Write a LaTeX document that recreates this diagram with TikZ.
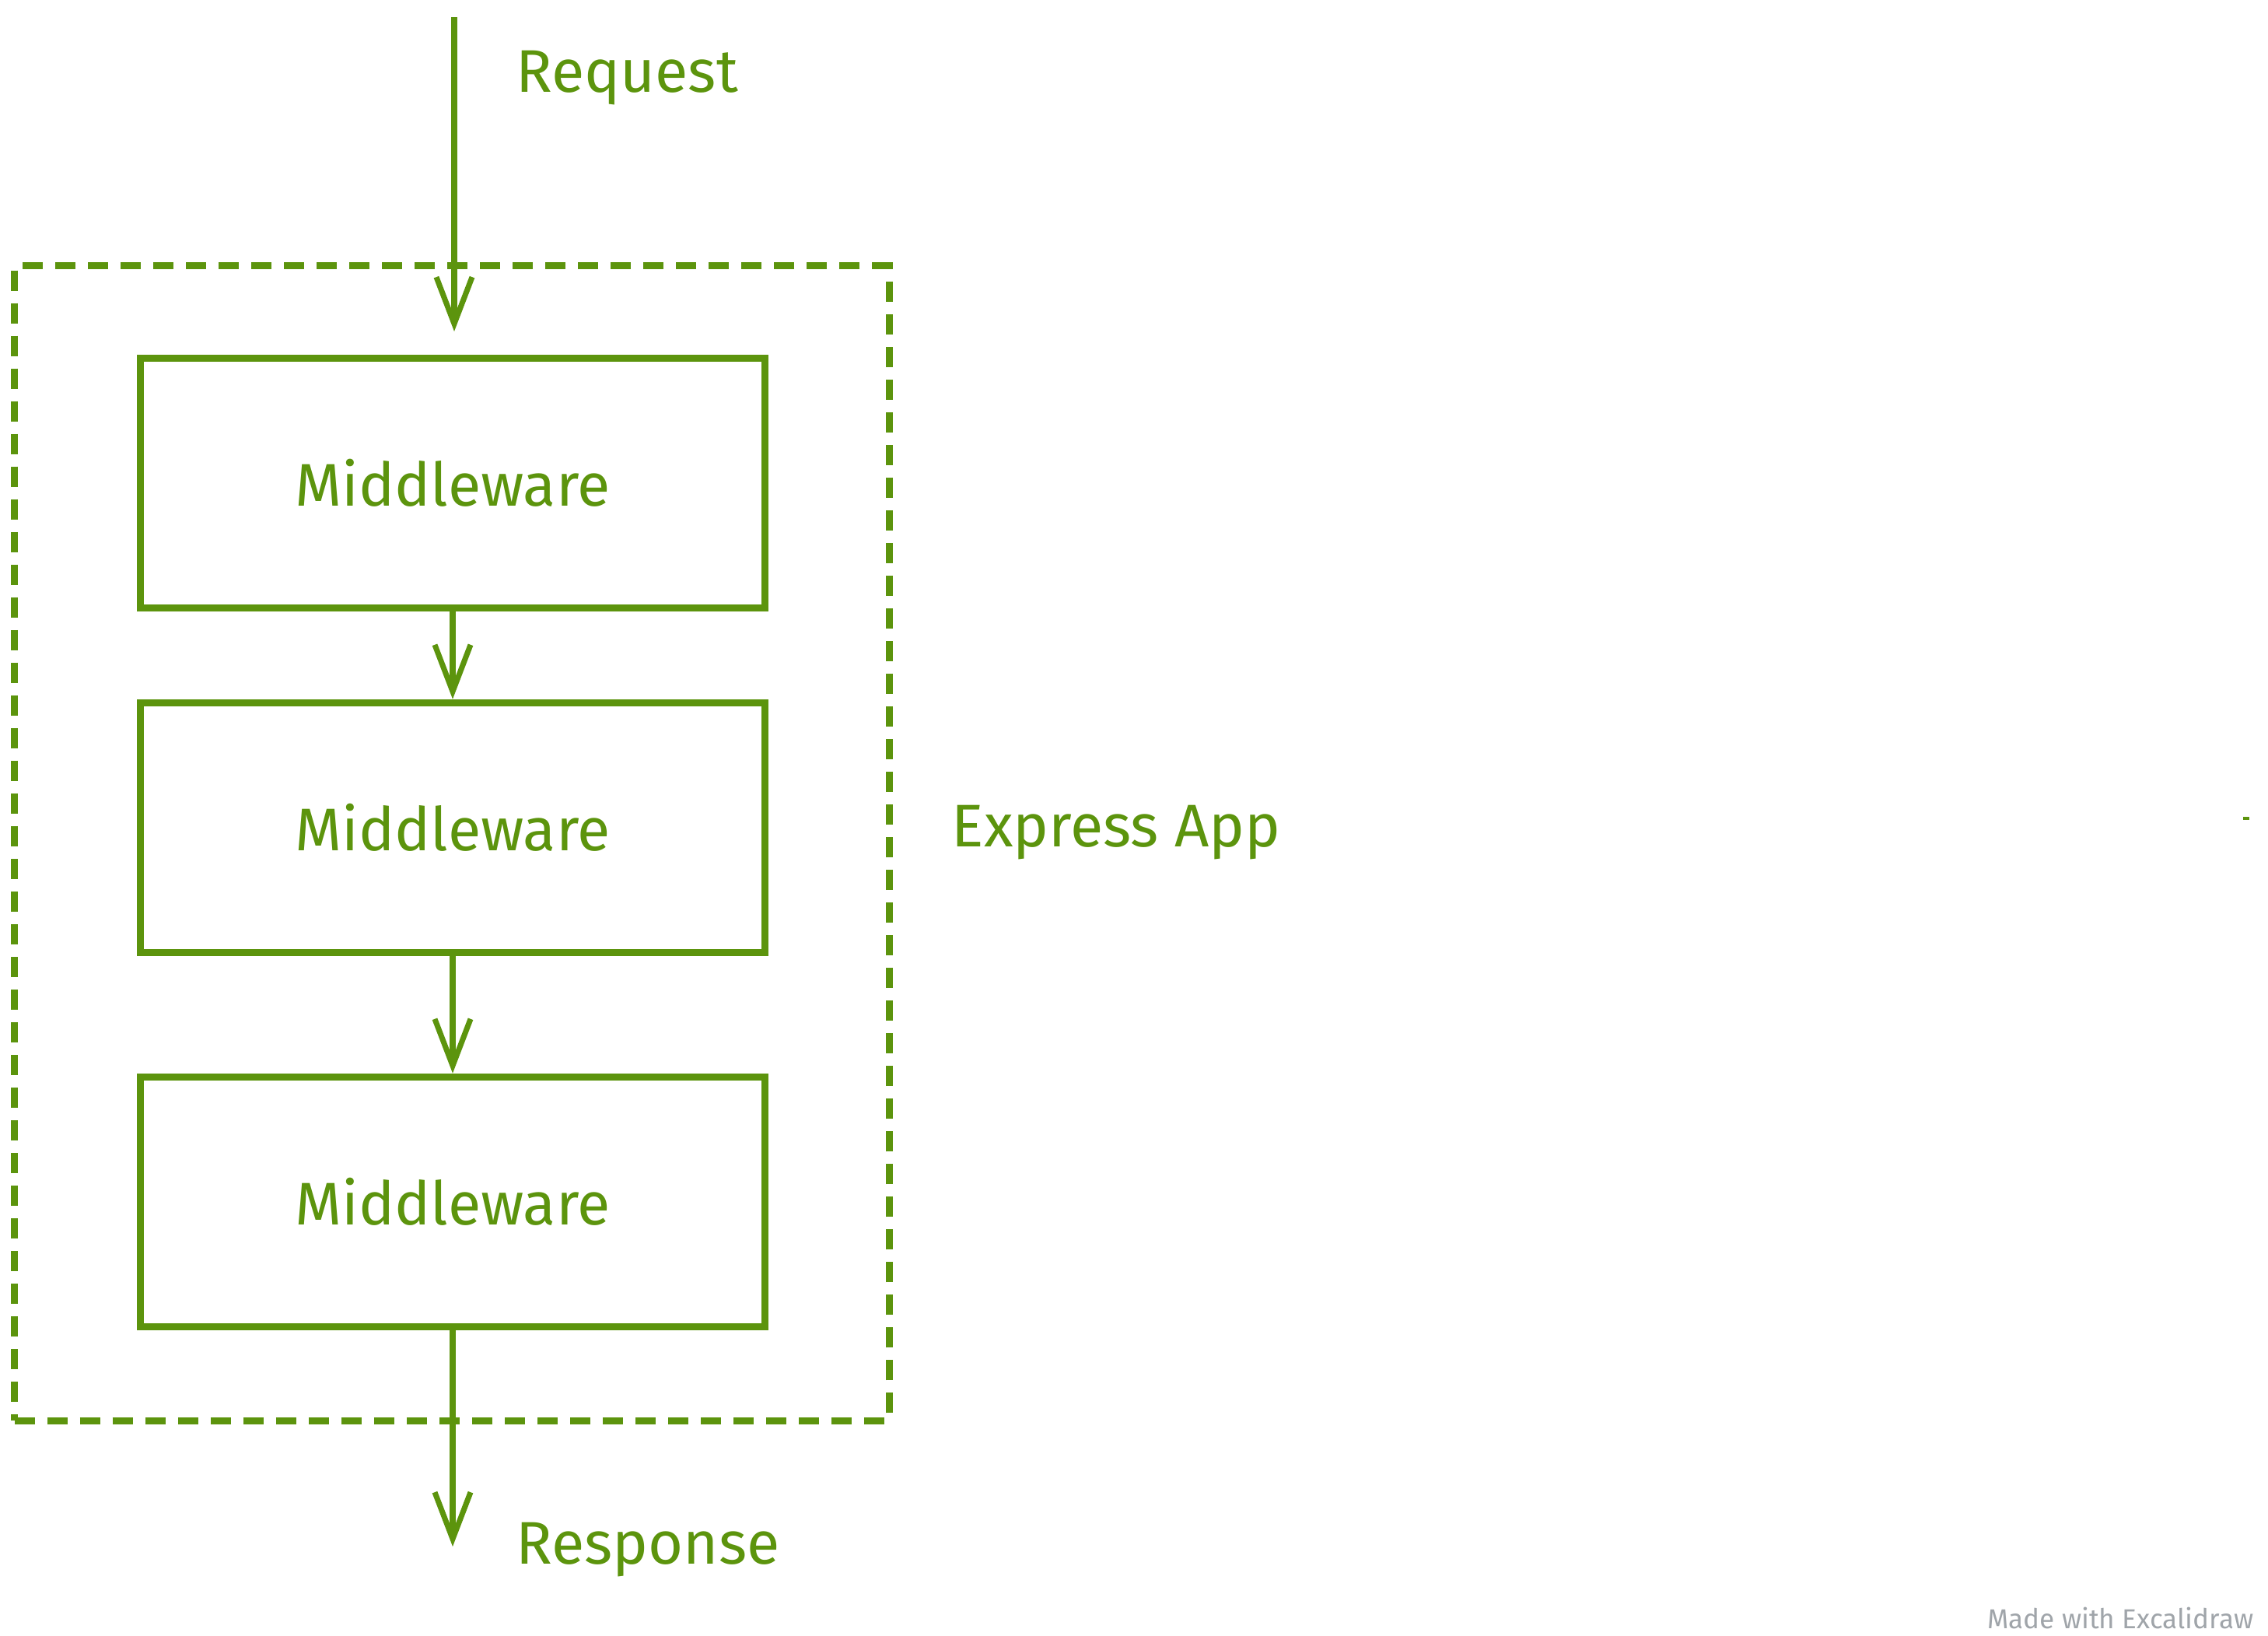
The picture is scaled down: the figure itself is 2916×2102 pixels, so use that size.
\documentclass[tikz,border=0pt]{standalone}
\usepackage{fontspec}
\setmainfont{Fira Sans}
\usepackage{tikz}
\usetikzlibrary{positioning}
\usetikzlibrary{arrows.meta}
\usepackage{xcolor}
\definecolor{exgreen}{HTML}{5C940D}
\definecolor{exgray}{HTML}{A0A5AA}

\begin{document}
\begin{tikzpicture}[x=0.01cm, y=-0.01cm,
  mw/.style={draw=exgreen, line width=2.7pt, minimum width=8.03cm, minimum height=3.21cm,
    text=exgreen, font=\fontsize{22}{26}\selectfont},
  flow/.style={draw=exgreen, line width=2pt, -{Straight Barb[length=6mm, width=4.6mm]}},
  lbl/.style={text=exgreen, font=\fontsize{22}{26}\selectfont, anchor=west, inner sep=0pt}]
\useasboundingbox (0,0) rectangle (2916,2102);
%% \draw[help lines] (0,0) grid[step=100] (2916,2102);

%% the app
\node [draw=exgreen, line width=2.4pt, dash pattern=on 0.26cm off 0.16cm,
  minimum width=11.24cm, minimum height=14.84cm] (app) at (581,1084) {};
\node[lbl] (applbl) at (1223,1070) {Express App};

\node[mw] (mw1) at (582,621) {Middleware};
\node[mw] (mw2) at (582,1064) {Middleware};
\node[mw] (mw3) at (582,1545) {Middleware};

%% request in
\coordinate (reqtop) at (584,22);
\coordinate (reqtip) at (584,426);
\draw [flow] (reqtop) -- (reqtip);
\node[lbl] (req) at (663,100) {Request};

\draw [flow] (mw1) -- (mw2);
\draw [flow] (mw2) -- (mw3);

%% response out
\coordinate (resptip) at (582,1988);
\draw [flow] (mw3) -- (resptip);
\node[lbl] (resp) at (663,1992) {Response};

\draw [exgreen, line width=1pt] (2884,1052) -- (2892,1052);
\node[text=exgray, font=\fontsize{10}{12}\selectfont, anchor=east, inner sep=0pt] (credit) at (2898,2080) {Made with Excalidraw};
\end{tikzpicture}
\end{document}
